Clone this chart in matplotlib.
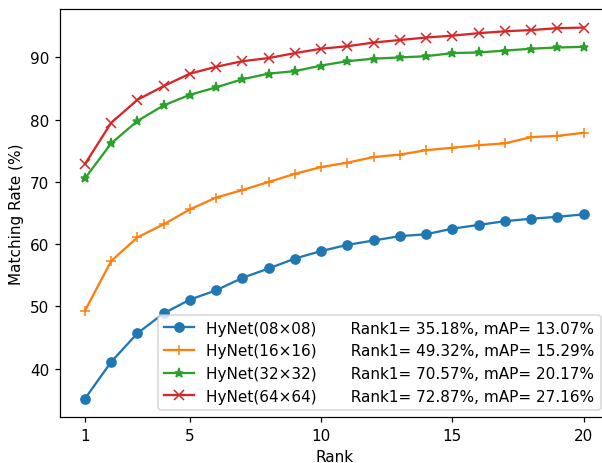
import matplotlib
matplotlib.use("Agg")
import matplotlib.pyplot as plt
import numpy as np

rank = np.arange(1, 21)

hynet_08 = [35.18, 41.1, 45.7, 48.9, 51.1, 52.6, 54.6, 56.1, 57.7, 58.9,
            59.9, 60.6, 61.3, 61.6, 62.5, 63.1, 63.7, 64.1, 64.4, 64.8]
hynet_16 = [49.32, 57.3, 61.1, 63.2, 65.6, 67.5, 68.7, 70.0, 71.3, 72.4,
            73.1, 74.0, 74.4, 75.1, 75.5, 75.9, 76.2, 77.2, 77.4, 77.9]
hynet_32 = [70.57, 76.2, 79.8, 82.3, 84.0, 85.2, 86.5, 87.4, 87.8, 88.7,
            89.4, 89.8, 90.0, 90.2, 90.7, 90.8, 91.1, 91.4, 91.6, 91.7]
hynet_64 = [72.87, 79.5, 83.2, 85.4, 87.4, 88.5, 89.4, 89.9, 90.7, 91.4,
            91.8, 92.4, 92.8, 93.2, 93.5, 93.9, 94.2, 94.4, 94.7, 94.8]

labels = ["HyNet(08×08)       Rank1= 35.18%, mAP= 13.07%",
          "HyNet(16×16)       Rank1= 49.32%, mAP= 15.29%",
          "HyNet(32×32)       Rank1= 70.57%, mAP= 20.17%",
          "HyNet(64×64)       Rank1= 72.87%, mAP= 27.16%"]

dpi = 110
fig = plt.figure(figsize=(602/dpi, 464/dpi), dpi=dpi)
ax = fig.add_axes([60/602, 45.7/464, 548.6/602, 408.3/464])

ax.plot(rank, hynet_08, marker='o', label=labels[0])
ax.plot(rank, hynet_16, marker='+', label=labels[1])
ax.plot(rank, hynet_32, marker='*', label=labels[2])
ax.plot(rank, hynet_64, marker='x', label=labels[3])

ax.set_xticks([1, 5, 10, 15, 20])
ax.set_xlabel("Rank")
ax.set_ylabel("Matching Rate (%)")
ax.legend(loc='lower right')

fig.savefig("out.png", dpi=dpi)
